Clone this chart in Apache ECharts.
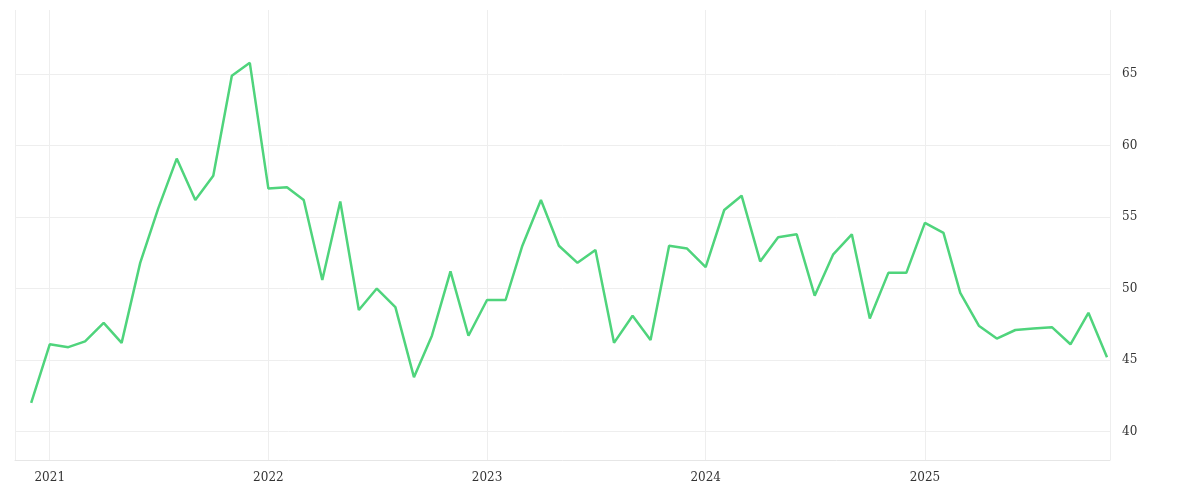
<!DOCTYPE html>
<html><head><meta charset="utf-8">
<script src="https://cdn.jsdelivr.net/npm/echarts@6/dist/echarts.min.js"></script>
<style>html,body{margin:0;padding:0;background:#fff}#c{width:1200px;height:500px}</style>
</head><body><div id="c"></div>
<script>
const months = [];
for (let y = 2020, m = 12; months.length < 60; ) { months.push(y + '-' + String(m).padStart(2,'0') + '-01'); m++; if (m > 12) { m = 1; y++; } }
const values = [42.0,
46.1,45.9,46.3,47.6,46.2,51.8,55.6,59.1,56.2,57.9,64.9,65.8,
57.0,57.1,56.2,50.6,56.1,48.5,50.0,48.7,43.8,46.7,51.2,46.7,
49.2,49.2,53.0,56.2,53.0,51.8,52.7,46.2,48.1,46.4,53.0,52.8,
51.5,55.5,56.5,51.9,53.6,53.8,49.5,52.4,53.8,47.9,51.1,51.1,
54.6,53.9,49.7,47.4,46.5,47.1,47.2,47.3,46.1,48.3,45.2];
const yTicks = [40,45,50,55,60,65];
const chart = echarts.init(document.getElementById('c'));
const font = 'DejaVu Serif';
chart.setOption({
  animation:false,
  grid:{left:15,right:90,top:10,bottom:40},
  xAxis:{type:'time',min:'2020-11-04',max:'2025-11-06',
    minInterval:365*24*3600*1000, maxInterval:366*24*3600*1000,
    axisLine:{show:true,lineStyle:{color:'#e6e6e6'}},axisTick:{show:false},
    splitLine:{show:true,lineStyle:{color:'#eeeeee'}},
    axisLabel:{formatter:'{yyyy}',color:'#333',fontFamily:font,fontSize:12,margin:12}},
  yAxis:{type:'value',position:'right',min:38,max:69.5,
    axisLine:{show:false},axisTick:{show:false,customValues:yTicks},
    splitLine:{show:true,lineStyle:{color:'#eeeeee'}},
    axisLabel:{color:'#333',fontFamily:font,fontSize:12,margin:12,customValues:yTicks}},
  series:[{type:'line',data:months.map((d,i)=>[d,values[i]]),showSymbol:false,
    lineStyle:{color:'#4fd47c',width:2.5},itemStyle:{color:'#4fd47c'}}]
});
</script></body></html>
